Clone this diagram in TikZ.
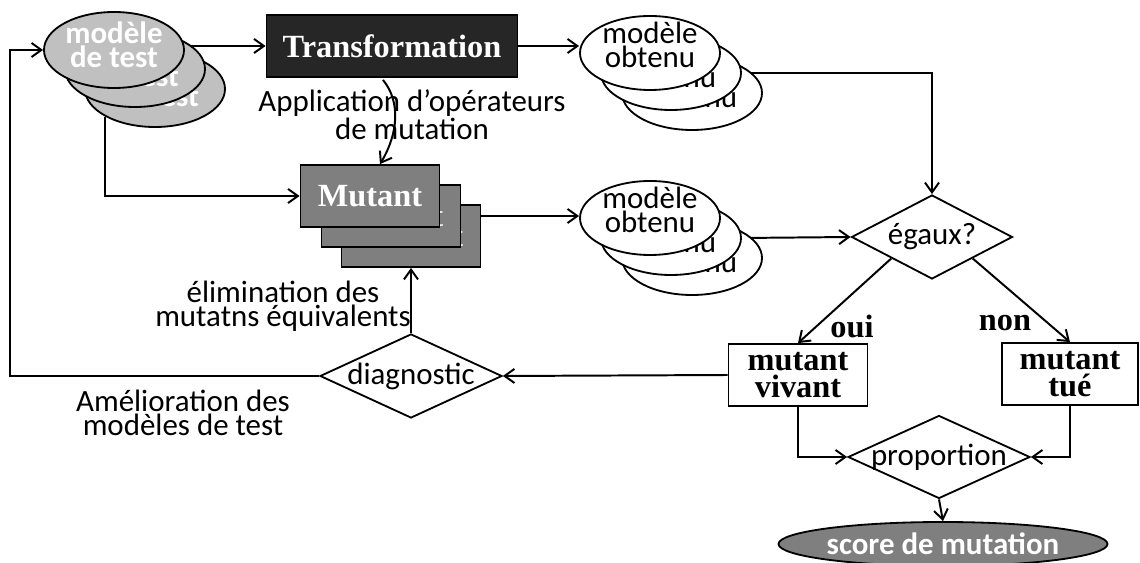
\documentclass[tikz,border=0pt]{standalone}
\usepackage{fontspec}
\setmainfont{Carlito}
\newfontfamily\timesfont{Liberation Serif}
\usetikzlibrary{shapes.geometric}
\usetikzlibrary{backgrounds}
\usetikzlibrary{calc}
\usetikzlibrary{arrows.meta}
\definecolor{testgray}{HTML}{C0C0C0}
\definecolor{trfill}{HTML}{262626}
\definecolor{mutgray}{HTML}{7F7F7F}
\newcommand{\pxu}{0.025cm}
\newcommand{\ellw}{140*\pxu}
\newcommand{\ellh}{76*\pxu}
\newcommand{\boxw}{139*\pxu}
\newcommand{\boxh}{62*\pxu}
\newcommand{\diamw}{182*\pxu}
\newcommand{\diamh}{84*\pxu}
\newcommand{\sanstext}{\fontsize{22}{17}\selectfont}
\newcommand{\serifbold}{\timesfont\bfseries\fontsize{23}{19}\selectfont}
\newcommand{\dtext}[1]{\makebox[0pt]{#1}}

\begin{document}
\begin{tikzpicture}[x=\pxu,y=-\pxu,line width=1.3pt,
    >={Straight Barb[length=7pt,width=10pt]},
    link/.style={->,line width=1.4pt},
    testtext/.style={text=white,font=\sanstext\bfseries,align=center,yshift=5*\pxu},
    obttext/.style={font=\sanstext,align=center,yshift=8*\pxu},
    testell/.style={ellipse,draw,fill=testgray,inner sep=0pt,
      minimum width=\ellw,minimum height=\ellh,
      label={[testtext]center:{modèle\\de test}}},
    obtell/.style={ellipse,draw,fill=white,inner sep=0pt,
      minimum width=\ellw,minimum height=74*\pxu,
      label={[obttext]center:{modèle\\obtenu}}},
    trbox/.style={draw,fill=trfill,text=white,font=\serifbold,
      minimum width=251*\pxu,minimum height=\boxh},
    mutbox/.style={draw,fill=mutgray,text=white,font=\serifbold,
      minimum width=\boxw,minimum height=\boxh},
    resbox/.style={draw,fill=white,font=\serifbold,align=center,
      minimum width=\boxw,minimum height=\boxh},
    decide/.style={diamond,draw,fill=white,font=\sanstext,aspect=2,inner sep=0pt,
      minimum width=\diamw,minimum height=\diamh},
    note/.style={font=\sanstext,align=center}]
    \useasboundingbox (0,0) rectangle (1140,563);
    % test models
    \node[testell] (test3) at (155,89) {};
    \node[testell] (test2) at (135,69) {};
    \node[testell] (test1) at (114,50) {};
    % transformation
    \node[trbox] (trans) at (392,46) {Transformation};
    % obtained models, top
    \node[obtell] (obt3) at (692,93) {};
    \node[obtell] (obt2) at (671,73) {};
    \node[obtell] (obt1) at (650,53) {};
    % mutants
    \node[mutbox] (mut3) at (411,236) {Mutant};
    \node[mutbox] (mut2) at (391,216) {Mutant};
    \node[mutbox] (mut1) at (370,196) {Mutant};
    % obtained models, bottom
    \node[obtell] (obtb3) at (692,258) {};
    \node[obtell] (obtb2) at (671,238) {};
    \node[obtell] (obtb1) at (650,218) {};
    % decisions
    \node[decide,minimum width=161*\pxu] (egaux) at (932,237) {\dtext{égaux?}};
    \node[decide] (diag) at (411,376) {\dtext{diagnostic}};
    \node[decide,minimum height=83*\pxu] (prop) at (939,457) {\dtext{proportion}};
    % results
    \node[resbox] (vivant) at (798,375) {mutant\\vivant};
    \node[resbox,minimum width=136*\pxu] (tue) at (1070,374) {mutant\\tué};
    \node[ellipse,draw,fill=mutgray,text=white,font=\sanstext\bfseries,inner sep=0pt,
      minimum width=328*\pxu,minimum height=44*\pxu] (score) at (943,544) {score de mutation};
    % labels
    \node[note] (appl) at (412,115) {Application d’opérateurs\\de mutation};
    \node[note] (elim) at (283,306) {élimination des\\mutatns équivalents};
    \node[note] (amel) at (183,413) {Amélioration des\\modèles de test};
    \node[font=\serifbold] (oui) at (852,326) {oui};
    \node[font=\serifbold] (non) at (1005,323) {non};
    \coordinate (corner) at (10,376);
    \begin{scope}[on background layer]
      \draw[link] (trans.west -| test1.east) -- (trans.west);
      \draw[link] (trans.east) -- (trans.east -| obt1.west);
      \draw[link] (obt2.east) -| (egaux.north);
      \draw[link] (test3.south west) |- (mut1.west);
      \draw[link] (mut2.east -| mut3.east) -- (mut2.east -| obtb1.west);
      \draw[link] (obtb2.east) -- (egaux.west);
      \draw[link] ($(trans.south)+(-9,2)$) .. controls +(18,22) and +(18,-30) .. ($(mut1.north)+(10,0)$);
      \draw[link] (egaux.south west) -- (vivant.north);
      \draw[link] (egaux.south east) -- (tue.north);
      \draw[link] (vivant.west) -- (diag.east);
      \draw[link] (diag.north) -- (mut3.south);
      \draw[link] (diag.west) -- (corner) |- (test1.west);
      \draw[link] (vivant.south) |- (prop.west);
      \draw[link] (tue.south) |- (prop.east);
      \draw[link] (prop.south) -- (score.north);
    \end{scope}
\end{tikzpicture}
\end{document}
